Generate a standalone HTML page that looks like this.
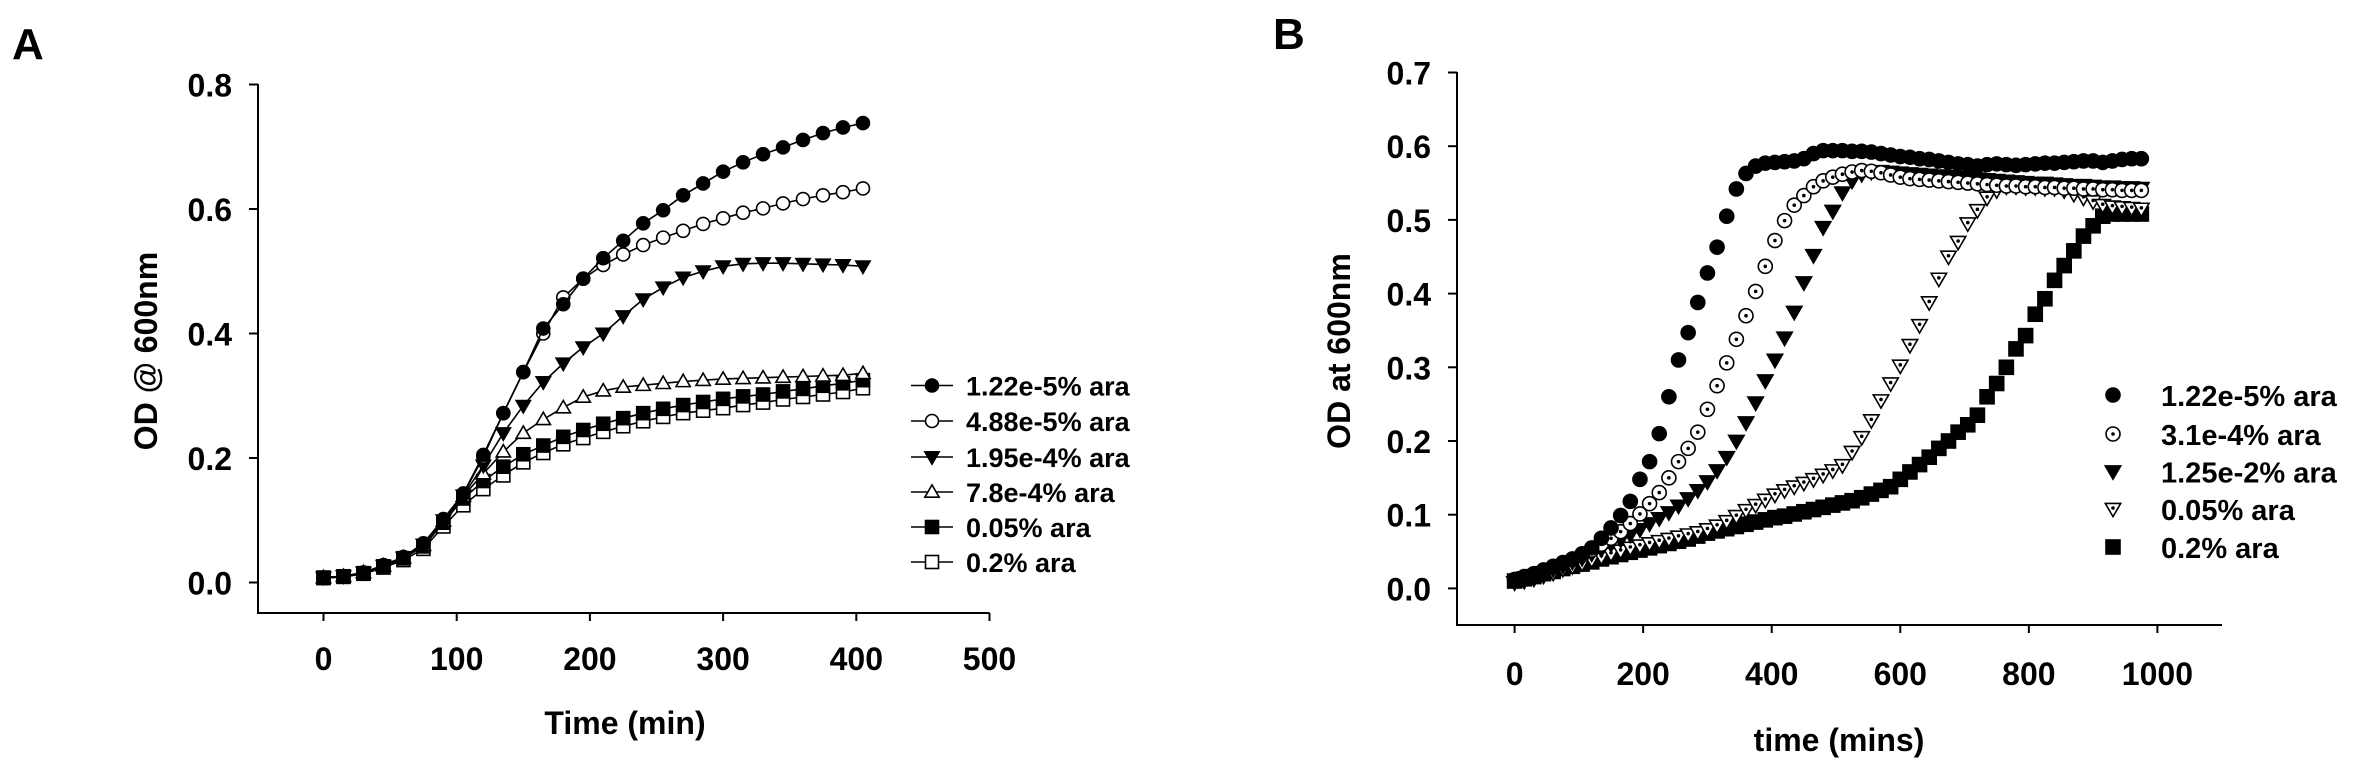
<!DOCTYPE html>
<html><head><meta charset="utf-8"><style>
html,body{margin:0;padding:0;background:#fff;}
svg{display:block;}
text{font-family:"Liberation Sans",Arial,sans-serif;font-weight:bold;fill:#000;}
</style></head><body>
<svg id="fig" width="2353" height="770" viewBox="0 0 2353 770" xmlns="http://www.w3.org/2000/svg">
<g id="panelA"></g>
<g id="panelB"></g>
</svg>
<script>
// ---------- Panel A data ----------
const timeA = [0,15,30,45,60,75,90,105,120,135,150,165,180,195,210,225,240,255,270,285,300,315,330,345,360,375,390,405];
const a_122e5 = [.008,.010,.016,.028,.041,.063,.102,.143,.205,.272,.338,.408,.447,.488,.521,.549,.577,.598,.622,.641,.660,.675,.688,.699,.711,.722,.731,.738];
const a_488e5 = [.008,.010,.016,.027,.040,.062,.101,.142,.202,.272,.338,.400,.458,.488,.510,.527,.542,.554,.565,.576,.585,.594,.601,.609,.616,.622,.627,.633];
const a_195e4 = [.008,.010,.016,.027,.040,.061,.100,.140,.188,.240,.284,.322,.352,.378,.400,.428,.455,.474,.490,.500,.508,.512,.513,.513,.512,.511,.510,.508];
const a_78e4 = [.008,.010,.016,.027,.040,.060,.099,.139,.175,.210,.240,.262,.281,.298,.308,.314,.317,.320,.323,.325,.327,.328,.329,.330,.331,.332,.333,.336];
const a_005 = [.008,.010,.015,.026,.039,.058,.096,.135,.163,.186,.206,.220,.234,.245,.255,.264,.272,.279,.285,.290,.295,.299,.302,.307,.311,.316,.320,.325];
const a_02 = [.007,.009,.014,.024,.036,.054,.090,.124,.150,.172,.193,.208,.222,.232,.242,.251,.259,.266,.272,.276,.280,.285,.289,.294,.298,.302,.306,.312];
const labelsA = ["1.22e-5% ara","4.88e-5% ara","1.95e-4% ara","7.8e-4% ara","0.05% ara","0.2% ara"];
const xTicksA = [0,100,200,300,400,500];
const yTicksA = [0.0,0.2,0.4,0.6,0.8];
const yTickLabelsA = ["0.0","0.2","0.4","0.6","0.8"];

// ---------- Panel B data ----------
const timeB = [0,15,30,45,60,75,90,105,120,135,150,165,180,195,210,225,240,255,270,285,300,315,330,345,360,375,390,405,420,435,450,465,480,495,510,525,540,555,570,585,600,615,630,645,660,675,690,705,720,735,750,765,780,795,810,825,840,855,870,885,900,915,930,945,960,975];
const b_122e5 = [.012,.016,.020,.025,.030,.035,.040,.047,.055,.068,.082,.099,.118,.148,.172,.210,.260,.310,.347,.388,.428,.463,.505,.542,.563,.573,.577,.578,.579,.580,.583,.590,.594,.594,.594,.593,.593,.592,.590,.588,.586,.585,.583,.582,.580,.578,.576,.575,.573,.575,.576,.575,.574,.575,.576,.577,.577,.578,.579,.580,.580,.578,.580,.582,.583,.583];
const b_31e4 = [.012,.015,.019,.024,.029,.034,.039,.045,.052,.060,.068,.077,.088,.101,.115,.130,.150,.172,.190,.212,.243,.275,.306,.338,.370,.403,.437,.472,.499,.520,.533,.545,.553,.558,.562,.565,.567,.566,.564,.561,.558,.556,.555,.554,.553,.552,.551,.550,.549,.548,.547,.546,.546,.545,.545,.544,.544,.543,.543,.542,.542,.541,.541,.540,.540,.540];
const b_125e2 = [.008,.012,.016,.021,.026,.031,.036,.041,.047,.053,.060,.066,.073,.080,.088,.095,.103,.112,.122,.133,.145,.160,.178,.200,.225,.252,.282,.310,.340,.375,.415,.452,.490,.512,.537,.553,.562,.565,.566,.565,.564,.563,.562,.561,.560,.559,.558,.557,.556,.555,.554,.553,.552,.551,.550,.550,.549,.548,.547,.547,.546,.545,.545,.544,.544,.543];
const b_005 = [.008,.010,.013,.017,.021,.026,.030,.034,.039,.043,.047,.051,.055,.058,.061,.064,.067,.070,.073,.076,.080,.085,.091,.098,.106,.113,.120,.127,.133,.138,.143,.148,.154,.160,.167,.185,.205,.228,.255,.278,.302,.330,.357,.388,.420,.450,.470,.495,.513,.530,.540,.545,.545,.544,.544,.543,.543,.540,.535,.530,.525,.520,.518,.517,.516,.515];
const b_02 = [.010,.013,.016,.020,.023,.027,.030,.033,.036,.040,.043,.046,.049,.052,.055,.058,.061,.064,.067,.071,.075,.078,.081,.084,.087,.090,.093,.096,.098,.101,.104,.107,.110,.113,.116,.119,.123,.128,.133,.138,.148,.158,.168,.178,.190,.200,.212,.222,.235,.260,.278,.300,.325,.343,.372,.393,.418,.438,.458,.478,.492,.505,.508,.508,.508,.508];
const labelsB = ["1.22e-5% ara","3.1e-4% ara","1.25e-2% ara","0.05% ara","0.2% ara"];
const xTicksB = [0,200,400,600,800,1000];
const yTicksB = [0.0,0.1,0.2,0.3,0.4,0.5,0.6,0.7];
const yTickLabelsB = ["0.0","0.1","0.2","0.3","0.4","0.5","0.6","0.7"];

const NS = "http://www.w3.org/2000/svg";
function mk(tag, attrs, parent){
  const e = document.createElementNS(NS, tag);
  for (const k in attrs) e.setAttribute(k, attrs[k]);
  parent.appendChild(e);
  return e;
}

// axis functions
const xA = t => 323.5 + t * 1.332;
const yA = v => 582.5 - v * 622.5;
const xB = t => 1514.6 + t * 0.6428;
const yB = v => 588.4 - v * 737;

function marker(kind, cx, cy, r, parent, name){
  const fill = kind.startsWith("filled") ? "#000" : "#fff";
  const g = mk("g", {}, parent);
  
  
  if (kind.includes("circle")) {
    mk("circle", {cx:cx, cy:cy, r:r, fill:fill, stroke:"#000", "stroke-width":1.6}, g);
  } else if (kind.includes("square")) {
    mk("rect", {x:cx-r, y:cy-r, width:2*r, height:2*r, fill:fill, stroke:"#000", "stroke-width":1.6}, g);
  } else if (kind.includes("down")) {
    mk("polygon", {points:`${cx-r*1.1},${cy-r*0.8} ${cx+r*1.1},${cy-r*0.8} ${cx},${cy+r*1.1}`, fill:fill, stroke:"#000", "stroke-width":1.6}, g);
  } else if (kind.includes("up")) {
    mk("polygon", {points:`${cx-r*1.1},${cy+r*0.8} ${cx+r*1.1},${cy+r*0.8} ${cx},${cy-r*1.1}`, fill:fill, stroke:"#000", "stroke-width":1.6}, g);
  }
  if (kind.includes("dot")) mk("circle", {cx:cx, cy:cy + (kind.includes("down")? -1:0), r:1.8, fill:"#000"}, g);
  return g;
}

function txt(parent, x, y, s, size, anchor, name, extra){
  const t = mk("text", Object.assign({x:x, y:y, "font-size":size, "text-anchor":anchor}, extra||{}), parent);
  t.textContent = s;
  
  
  return t;
}

// ---------- Panel A ----------
(function(){
  const P = document.getElementById("panelA");
  txt(P, 12, 59, "A", 44, "start", "panel-a-label");
  const ax = mk("path", {d:`M258,84 L258,613 L989.5,613`, fill:"none", stroke:"#000", "stroke-width":2}, P);
  
  
  yTicksA.forEach((v,i)=>{
    mk("line", {x1:249, x2:258, y1:yA(v), y2:yA(v), stroke:"#000", "stroke-width":2}, P);
    txt(P, 232, yA(v)+12, yTickLabelsA[i], 32, "end", "y-tick-label-a");
  });
  xTicksA.forEach(t=>{
    mk("line", {x1:xA(t), x2:xA(t), y1:613, y2:621, stroke:"#000", "stroke-width":2}, P);
    txt(P, xA(t), 670, String(t), 32, "middle", "x-tick-label-a");
  });
  txt(P, 625, 734, "Time (min)", 32, "middle", "x-axis-title-a");
  txt(P, 0, 0, "OD @ 600nm", 32, "middle", "y-axis-title-a", {transform:"translate(157,351) rotate(-90)"});

  const series = [a_122e5, a_488e5, a_195e4, a_78e4, a_005, a_02];
  const kinds = ["filled-circle","open-circle","filled-down","open-up","filled-square","open-square"];
  const order = [5,4,3,2,1,0];
  order.forEach(si=>{
    const d = series[si].map((v,i)=>(i?"L":"M")+xA(timeA[i]).toFixed(1)+","+yA(v).toFixed(1)).join(" ");
    const p = mk("path", {d:d, fill:"none", stroke:"#000", "stroke-width":1.6}, P);
    
    
    series[si].forEach((v,i)=>{
      marker(kinds[si], xA(timeA[i]), yA(v), 6.5, P, 'point-a-' + si);
    });
  });
  const legY = [385.5,421,457,492,527,562];
  labelsA.forEach((s,i)=>{
    const g = mk("g", {}, P);
    
    
    mk("line", {x1:911, x2:953, y1:legY[i], y2:legY[i], stroke:"#000", "stroke-width":1.6}, g);
    marker(kinds[i], 932, legY[i], 6.5, g, 'legend-marker-a');
    txt(g, 966, legY[i]+10, s, 27, "start", "legend-label-a");
  });
})();

// ---------- Panel B ----------
(function(){
  const P = document.getElementById("panelB");
  txt(P, 1273, 49, "B", 44, "start", "panel-b-label");
  const ax = mk("path", {d:`M1457,72 L1457,625 L2222,625`, fill:"none", stroke:"#000", "stroke-width":2}, P);
  
  
  yTicksB.forEach((v,i)=>{
    mk("line", {x1:1448, x2:1457, y1:yB(v), y2:yB(v), stroke:"#000", "stroke-width":2}, P);
    txt(P, 1431, yB(v)+12, yTickLabelsB[i], 32, "end", "y-tick-label-b");
  });
  xTicksB.forEach(t=>{
    mk("line", {x1:xB(t), x2:xB(t), y1:625, y2:633, stroke:"#000", "stroke-width":2}, P);
    txt(P, xB(t), 685, String(t), 32, "middle", "x-tick-label-b");
  });
  txt(P, 1839, 751, "time (mins)", 32, "middle", "x-axis-title-b");
  txt(P, 0, 0, "OD at 600nm", 32, "middle", "y-axis-title-b", {transform:"translate(1350,351) rotate(-90)"});

  const series = [b_122e5, b_31e4, b_125e2, b_005, b_02];
  const kinds = ["filled-circle","open-circle-dot","filled-down","open-down-dot","filled-square"];
  [4,3,2,1,0].forEach(si=>{
    series[si].forEach((v,i)=>{
      marker(kinds[si], xB(timeB[i]), yB(v), 7, P, 'point-b-' + si);
    });
  });
  const legY = [395,434,471.5,509,547];
  labelsB.forEach((s,i)=>{
    const g = mk("g", {}, P);
    
    
    marker(kinds[i], 2113, legY[i], 7, g, 'legend-marker-b');
    txt(g, 2161, legY[i]+11, s, 29, "start", "legend-label-b");
  });
})();
</script>
</body></html>
